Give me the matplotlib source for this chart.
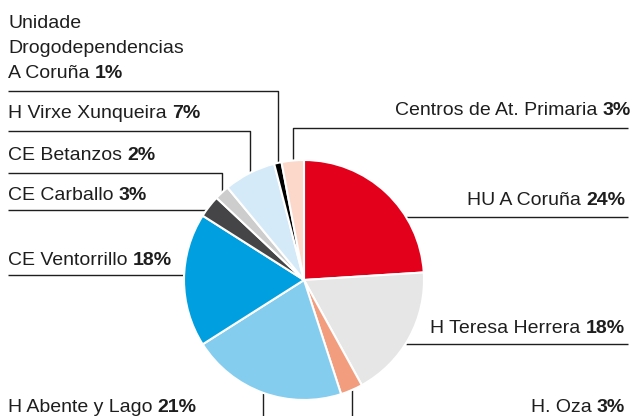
import matplotlib.pyplot as plt
import numpy as np

plt.rcParams['font.family'] = ['Liberation Sans', 'DejaVu Sans']

# pie data, clockwise from 12 o'clock
names = ['HU A Coruña', 'H Teresa Herrera', 'H. Oza', 'H Abente y Lago',
         'CE Ventorrillo', 'CE Carballo', 'CE Betanzos', 'H Virxe Xunqueira',
         'Unidade\nDrogodependencias\nA Coruña', 'Centros de At. Primaria']
shares = [24, 18, 3, 21, 18, 3, 2, 7, 1, 3]
colors = ['#e2001a', '#e6e6e6', '#f39d7f', '#85cdef', '#009fe0',
          '#454547', '#cdcdcd', '#d5eaf8', '#000000', '#fbd8c9']

# label layout (pixels, y down)
label_side = ['right', 'right', 'right', 'left', 'left', 'left', 'left', 'left', 'left', 'right']
text_y = [205, 333, 412, 412, 265, 200, 160, 118, 78, 115]
line_kind = ['h', 'h', 'down', 'down', 'h', 'h', 'elbow', 'elbow', 'elbow', 'elbow']
line_y = [217, 344, None, None, 275, 210, 173, 131, 91, 128]

CX, CY, R = 304, 280, 120
XL, XR = 8, 628
FS = 14
TXT = '#1e1e1e'
LINE = '#1e1e1e'
SP = 3.8  # space between name and pct, points

fig = plt.figure(figsize=(6.35, 4.16), dpi=100)
ax = fig.add_axes([0, 0, 1, 1])

ax.pie(shares, colors=colors, startangle=-90, counterclock=True,
       center=(CX, CY), radius=R,
       wedgeprops=dict(edgecolor='white', linewidth=1.5))
ax.set_xlim(0, 635)
ax.set_ylim(416, 0)
ax.set_aspect('equal')
ax.axis('off')

cum = np.cumsum([0] + shares[:-1])
for i, name in enumerate(names):
    theta = np.deg2rad(-90 + 3.6 * (cum[i] + shares[i] / 2.0))
    mx, my = CX + R * np.cos(theta), CY + R * np.sin(theta)
    side = label_side[i]
    ly = line_y[i]

    # leader lines
    if line_kind[i] == 'h':
        dx = np.sqrt(R ** 2 - (ly - CY) ** 2)
        if side == 'left':
            xs = [XL, CX - dx]
        else:
            xs = [CX + dx, XR]
        ax.plot(xs, [ly, ly], color=LINE, lw=1.0, zorder=0.5, solid_capstyle='butt')
    elif line_kind[i] == 'elbow':
        x0 = XL if side == 'left' else XR
        ax.plot([x0, mx, mx], [ly, ly, my], color=LINE, lw=1.0, zorder=0.5,
                solid_capstyle='butt')
    else:
        ax.plot([mx, mx], [my, 416], color=LINE, lw=1.0, zorder=0.5, solid_capstyle='butt')

    # texts
    parts = name.split('\n')
    pct = '%d%%' % shares[i]
    ty = text_y[i]
    for k, extra in enumerate(parts[:-1]):
        ax.text(XL, ty - 25 * (len(parts) - 1 - k), extra, ha='left', va='baseline',
                fontsize=FS, color=TXT)
    if side == 'left':
        t = ax.text(XL, ty, parts[-1], ha='left', va='baseline', fontsize=FS, color=TXT)
        ax.annotate(pct, xy=(1, 0), xycoords=t, xytext=(SP, 0), textcoords='offset points',
                    ha='left', va='bottom', fontsize=FS, fontweight='bold', color=TXT)
    else:
        xr = XR + 3 if i == len(names) - 1 else XR - 3
        p = ax.text(xr, ty, pct, ha='right', va='baseline', fontsize=FS,
                    fontweight='bold', color=TXT)
        ax.annotate(parts[-1], xy=(0, 0), xycoords=p, xytext=(-SP, 0),
                    textcoords='offset points', ha='right', va='bottom',
                    fontsize=FS, color=TXT)

fig.savefig('out.png', dpi=100)
